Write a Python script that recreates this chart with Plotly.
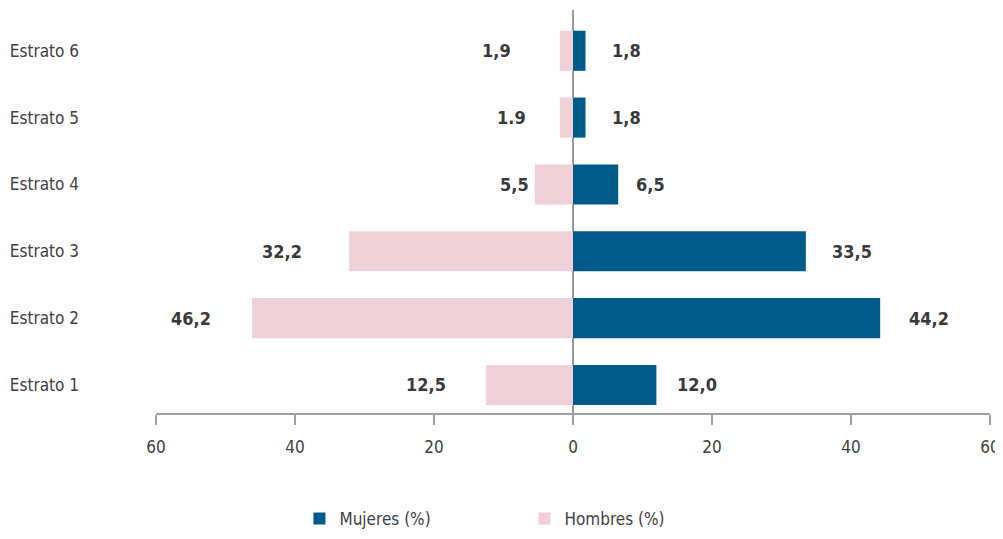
import plotly.graph_objects as go

categories = ["Estrato 1", "Estrato 2", "Estrato 3", "Estrato 4", "Estrato 5", "Estrato 6"]
mujeres = [12.0, 44.2, 33.5, 6.5, 1.8, 1.8]
hombres = [12.5, 46.2, 32.2, 5.5, 1.9, 1.9]
mujeres_labels = ["12,0", "44,2", "33,5", "6,5", "1,8", "1,8"]
hombres_labels = ["12,5", "46,2", "32,2", "5,5", "1.9", "1,9"]
tick_vals = [-60, -40, -20, 0, 20, 40, 60]
tick_text = ["60", "40", "20", "0", "20", "40", "60"]

# label offsets (style)
hombres_shift = [-60, -61, -67, -20, -48, -63]
mujeres_shift = [41, 49, 46, 32, 41, 41]

FONT = "DejaVu Sans Condensed, sans-serif"
C_M = "#005a8a"
C_H = "#f0d0d8"

fig = go.Figure()
fig.add_trace(go.Bar(y=categories, x=mujeres, orientation="h", name="Mujeres (%)",
                     marker=dict(color=C_M, line=dict(width=0))))
fig.add_trace(go.Bar(y=categories, x=[-v for v in hombres], orientation="h", name="Hombres (%)",
                     marker=dict(color=C_H, line=dict(width=0))))

for i, c in enumerate(categories):
    fig.add_annotation(x=mujeres[i], y=c, text=mujeres_labels[i], showarrow=False,
                       xanchor="center", xshift=mujeres_shift[i],
                       font=dict(family=FONT, size=18, color="#3a3a3a", weight="bold"))
    fig.add_annotation(x=-hombres[i], y=c, text=hombres_labels[i], showarrow=False,
                       xanchor="center", xshift=hombres_shift[i],
                       font=dict(family=FONT, size=18, color="#3a3a3a", weight="bold"))

fig.update_layout(
    width=995, height=523,
    margin=dict(l=148, r=13, t=2, b=118),
    barmode="relative", bargap=0.4,
    plot_bgcolor="white", paper_bgcolor="white",
    font=dict(family=FONT, size=17, color="#404040"),
    showlegend=True,
    legend=dict(orientation="h", xref="paper", x=0.172, xanchor="left",
                yref="container", y=0.023, yanchor="middle",
                traceorder="normal", entrywidth=180, font=dict(size=17, color="#404040")),
    xaxis=dict(range=[-60, 60], tickvals=tick_vals, ticktext=tick_text,
               showgrid=False, zeroline=True, zerolinecolor="#999999", zerolinewidth=2,
               showline=True, linecolor="#a0a0a0", linewidth=2,
               ticks="outside", ticklen=10, tickwidth=2, tickcolor="#a0a0a0",
               ticklabelstandoff=8, fixedrange=True, automargin=False),
    yaxis=dict(range=[-0.42, 5.61], showgrid=False, zeroline=False, showline=False,
               ticks="", ticklabelstandoff=76, categoryorder="array", categoryarray=categories,
               automargin=False),
)

fig.write_html("out.html")
